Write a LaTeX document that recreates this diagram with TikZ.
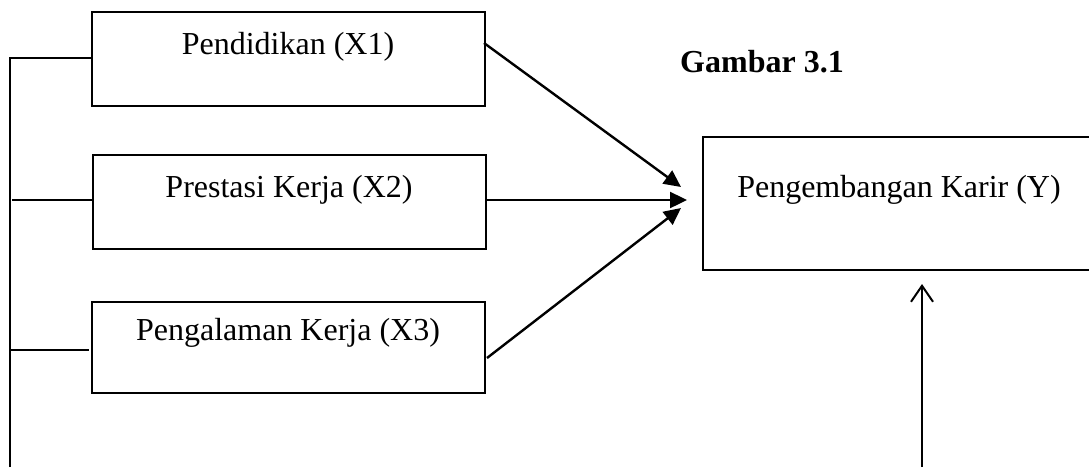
\documentclass[tikz,border=0pt]{standalone}
\usepackage{fontspec}
\setmainfont{Liberation Serif}
\usetikzlibrary{arrows.meta}
\begin{document}
\begin{tikzpicture}[x=1pt,y=-1pt,
  box/.style={draw,line width=1.5pt,minimum width=393pt,inner sep=0pt,anchor=center},
  lbl/.style={font=\fontsize{32}{36}\selectfont,inner sep=0pt,anchor=center},
  thin/.style={line width=1.3pt},
  arr/.style={line width=2.4pt,-{Triangle[length=17pt,width=16pt]}}]
\clip (0,0) rectangle (1089,467);
\useasboundingbox (0,0) rectangle (1089,467);
\node[box,minimum height=94pt] (b1) at (288.5,59) {};
\node[box,minimum height=94pt] (b2) at (289.5,202) {};
\node[box,minimum height=91pt] (b3) at (288.5,347.5) {};
\node[box,minimum width=420pt,minimum height=133pt] (by) at (913,203.5) {};
\node[lbl] (t1) at (288,47) {Pendidikan (X1)};
\node[lbl] (t2) at (289,190) {Prestasi Kerja (X2)};
\node[lbl] (t3) at (288,333) {Pengalaman Kerja (X3)};
\node[lbl] (ty) at (899,190) {Pengembangan Karir (Y)};
\node[font=\fontsize{32}{36}\selectfont\bfseries,inner sep=0pt,anchor=west] (g) at (680,62) {Gambar 3.1};
\coordinate (vb) at (10,467);
\coordinate (vt) at (10,58);
\coordinate (h2) at (12,200);
\coordinate (h3) at (10,350);
\draw[thin] (vb) -- (vt) -- (b1.west |- vt);
\draw[thin] (h2) -- (b2.west |- h2);
\draw[thin] (h3) -- (89,350);
\coordinate (a1s) at (484,43);
\coordinate (a2s) at (486,200);
\coordinate (a3s) at (487,358);
\coordinate (tip1) at (681,187);
\coordinate (tip2) at (687,200);
\coordinate (tip3) at (681,208);
\draw[arr] (a1s) -- (tip1);
\draw[arr] (a2s) -- (tip2);
\draw[arr] (a3s) -- (tip3);
\coordinate (ub) at (922,467);
\coordinate (ut) at (922,284);
\draw[line width=2pt,-{Straight Barb[length=16pt,width=22pt,line width=2pt]}] (ub) -- (ut);
\end{tikzpicture}
\end{document}
